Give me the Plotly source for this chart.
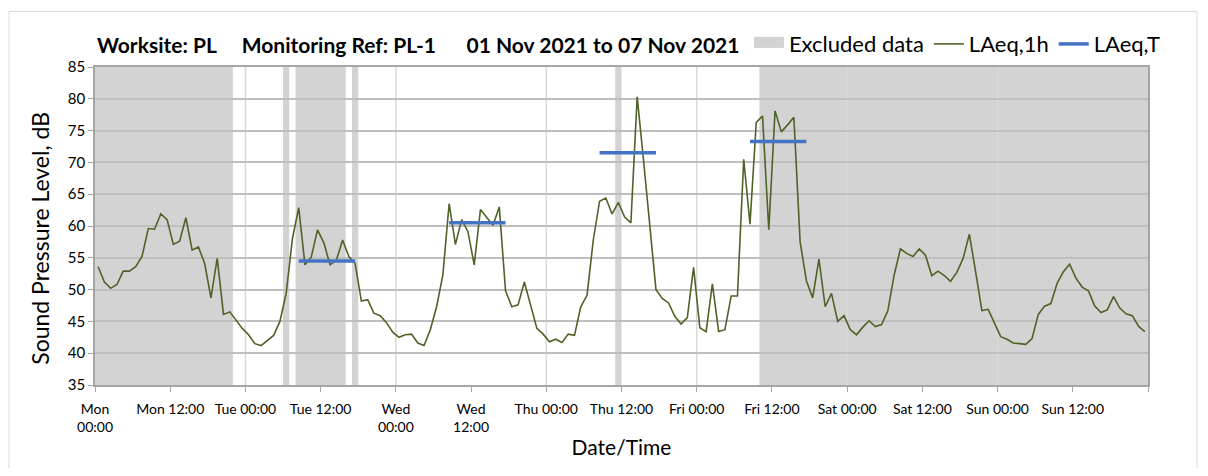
import pandas as pd
import plotly.graph_objects as go

FONT = "Lato, 'Open Sans', sans-serif"
GREEN = "#4F6228"
BLUE = "#4472C4"
SHADE = "#D3D3D3"
GRID_H = "#BFBFBF"
GRID_V = "#D9D9D9"
AXIS = "#A6A6A6"

start = pd.Timestamp("2021-11-01 00:00")

# hourly LAeq,1h values, Mon 00:00 .. Sun 23:00
laeq_1h = [
    53.6, 51.2, 50.2, 50.8, 52.9, 52.9, 53.6, 55.2, 59.6, 59.5,
    61.9, 61.0, 57.1, 57.6, 61.3, 56.2, 56.7, 54.1, 48.7, 54.9,
    46.1, 46.5, 45.2, 43.9, 42.9, 41.5, 41.2, 42.0, 42.8, 45.0,
    49.4, 58.0, 62.9, 53.9, 55.1, 59.4, 57.4, 53.9, 54.6, 57.8,
    55.2, 54.1, 48.2, 48.4, 46.3, 45.9, 44.8, 43.3, 42.5, 42.9,
    43.0, 41.6, 41.2, 43.7, 47.3, 52.3, 63.5, 57.1, 61.0, 59.1,
    53.9, 62.6, 61.4, 60.1, 63.0, 49.8, 47.3, 47.6, 51.2, 47.6,
    43.9, 43.0, 41.8, 42.2, 41.7, 43.0, 42.8, 47.3, 49.1, 57.8,
    63.9, 64.4, 61.9, 63.7, 61.4, 60.5, 80.3, 70.5, 59.8, 50.0,
    48.6, 47.9, 45.8, 44.6, 45.6, 53.5, 44.0, 43.4, 50.9, 43.4,
    43.7, 49.0, 49.0, 70.5, 60.3, 76.3, 77.3, 59.4, 78.1, 74.8,
    75.9, 77.1, 57.5, 51.4, 48.7, 54.8, 47.3, 49.4, 45.0, 45.9,
    43.7, 42.9, 44.1, 45.1, 44.2, 44.5, 46.7, 52.3, 56.4, 55.7,
    55.2, 56.4, 55.4, 52.2, 52.9, 52.2, 51.3, 52.7, 54.9, 58.7,
    52.8, 46.7, 46.9, 44.8, 42.6, 42.2, 41.6, 41.5, 41.4, 42.3,
    46.1, 47.4, 47.8, 51.0, 52.8, 54.0, 51.8, 50.4, 49.8, 47.4,
    46.4, 46.8, 48.9, 47.1, 46.2, 45.9, 44.2, 43.4,
]
times = pd.date_range(start + pd.Timedelta(minutes=30), periods=len(laeq_1h), freq="h")

# excluded periods, hours from Mon 00:00
excl_start = [0, 30, 32, 41, 83, 106]
excl_end = [22, 31, 40, 42, 84, 168]

# LAeq,T daytime periods (hours from Mon 00:00) and levels
period_start = [32.5, 56.5, 80.5, 104.5]
period_end = [41.5, 65.5, 89.5, 113.5]
laeq_t = [54.5, 60.5, 71.5, 73.3]

tick_labels = ["Mon<br>00:00", "Mon 12:00", "Tue 00:00", "Tue 12:00", "Wed<br>00:00",
               "Wed<br>12:00", "Thu 00:00", "Thu 12:00", "Fri 00:00", "Fri 12:00",
               "Sat 00:00", "Sat 12:00", "Sun 00:00", "Sun 12:00", ""]
tick_vals = pd.date_range(start, periods=len(tick_labels), freq="12h")

def hrs(h):
    return start + pd.Timedelta(hours=h)

fig = go.Figure()

for a, b in zip(excl_start, excl_end):
    fig.add_shape(type="rect", xref="x", yref="paper", x0=hrs(a), x1=hrs(b), y0=0, y1=1,
                  fillcolor=SHADE, line_width=0, layer="below")

# daily vertical gridlines
for d in range(1, 7):
    fig.add_shape(type="line", xref="x", yref="paper", x0=hrs(24 * d), x1=hrs(24 * d),
                  y0=0, y1=1, line=dict(color=GRID_V, width=1.5), layer="below")

# legend entry for the shaded periods
fig.add_trace(go.Scatter(x=[hrs(0)], y=[None], mode="lines", name="Excluded data",
                         fill="toself", fillcolor=SHADE, line=dict(color=SHADE, width=10)))

fig.add_trace(go.Scatter(x=times, y=laeq_1h, mode="lines", name="LAeq,1h",
                         line=dict(color=GREEN, width=1.6)))

tx, ty = [], []
for a, b, v in zip(period_start, period_end, laeq_t):
    tx += [hrs(a), hrs(b), None]
    ty += [v, v, None]
fig.add_trace(go.Scatter(x=tx, y=ty, mode="lines", name="LAeq,T",
                         line=dict(color=BLUE, width=3.5)))

gap1 = "\u00a0" * 5
gap2 = "\u00a0" * 6
fig.add_annotation(
    xref="paper", yref="paper", x=0.0, y=1.072, xanchor="left", yanchor="middle",
    text=f"<b>Worksite: PL{gap1}Monitoring Ref: PL-1{gap2}01 Nov 2021 to 07 Nov 2021</b>",
    showarrow=False, font=dict(size=21, color="#000"),
)

# y axis title
fig.add_annotation(
    xref="paper", yref="paper", x=-0.0522, y=0.46, xanchor="center", yanchor="middle",
    text="Sound Pressure Level, dB", textangle=-90, showarrow=False,
    font=dict(size=23, color="#000"),
)

# outer chart border
fig.add_shape(type="rect", xref="paper", yref="paper", x0=-0.0817, x1=1.0465, y0=-0.5, y1=1.175,
              line=dict(color="#D9D9D9", width=1), fillcolor="rgba(0,0,0,0)", layer="below")

fig.update_layout(
    width=1192, height=460,
    paper_bgcolor="white", plot_bgcolor="white",
    font=dict(family=FONT, color="#000", size=14),
    margin=dict(l=87, r=52, t=59, b=81),
    showlegend=True,
    legend=dict(orientation="h", x=0.621, y=1.072, xanchor="left", yanchor="middle",
                font=dict(size=22), bgcolor="rgba(0,0,0,0)", itemwidth=30),
    xaxis=dict(
        type="date", range=[hrs(0), hrs(168)], tickvals=tick_vals, ticktext=tick_labels,
        showgrid=False, zeroline=False, showline=True, linecolor=AXIS, linewidth=1.5,
        mirror=True, ticks="outside", ticklen=5, tickcolor=AXIS,
        tickfont=dict(size=14), ticklabelstandoff=5,
        title=dict(text="Date/Time", font=dict(size=21), standoff=7),
    ),
    yaxis=dict(
        range=[35, 85], dtick=5, showgrid=True, gridcolor=GRID_H, gridwidth=1.5,
        zeroline=False, showline=True, linecolor=AXIS, linewidth=1.5, mirror=True,
        ticks="outside", ticklen=5, tickcolor=AXIS, tickfont=dict(size=15),
    ),
)

fig.write_html("out.html")
